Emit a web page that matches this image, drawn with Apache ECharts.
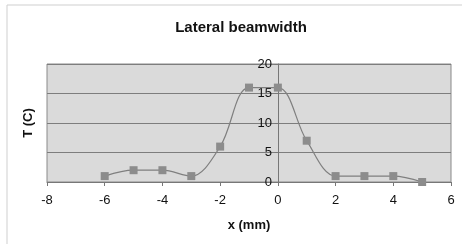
<!DOCTYPE html>
<html><head><meta charset="utf-8">
<script src="https://cdn.jsdelivr.net/npm/echarts@6/dist/echarts.min.js"></script>
<style>html,body{margin:0;padding:0;background:#fff}#c{width:462px;height:244px}</style>
</head><body><div id="c"></div>
<script>
const xValues = [-6, -5, -4, -3, -2, -1, 0, 1, 2, 3, 4, 5];
const tValues = [1, 2, 2, 1, 6, 16, 16, 7, 1, 1, 1, 0];
const titleText = 'Lateral beamwidth';
const xName = 'x (mm)';
const yName = 'T (C)';

const W = 462, GL = 47, GR = 11;
const xMin = -8, xMax = 6;
const zeroOffset = -((0 - xMin) / (xMax - xMin)) * (W - GL - GR);
const font = 'Liberation Sans, Arial';

const chart = echarts.init(document.getElementById('c'), null, {renderer: 'canvas'});
chart.setOption({
  animation: false,
  backgroundColor: '#ffffff',
  title: {text: titleText, left: 236, top: 15, textAlign: 'center',
    textStyle: {fontFamily: font, fontWeight: 'bold', fontSize: 15, color: '#111'}},
  graphic: [{type: 'rect', shape: {x: 7, y: 5, width: 470, height: 250}, style: {fill: 'none', stroke: '#cfcfcf', lineWidth: 1}}],
  grid: {left: GL, right: GR, top: 64, bottom: 62, show: true, backgroundColor: '#dadada', borderColor: '#8a8a8a', borderWidth: 1},
  xAxis: {type: 'value', min: xMin, max: xMax, interval: 2,
    name: xName, nameLocation: 'middle', nameGap: 37,
    nameTextStyle: {fontFamily: font, fontWeight: 'bold', fontSize: 13, color: '#111'},
    axisLine: {show: true, onZero: false, lineStyle: {color: '#777'}},
    axisTick: {show: true, inside: false, length: 4, lineStyle: {color: '#777'}},
    axisLabel: {fontFamily: font, fontSize: 13, color: '#111', margin: 12},
    splitLine: {show: false}},
  yAxis: [
    {type: 'value', min: 0, max: 20, interval: 5,
      name: yName, nameLocation: 'middle', nameGap: 12,
      nameTextStyle: {fontFamily: font, fontWeight: 'bold', fontSize: 13, color: '#111'},
      axisLine: {show: false}, axisTick: {show: false}, axisLabel: {show: false},
      splitLine: {show: true, lineStyle: {color: '#7d7d7d', width: 1}}},
    {type: 'value', min: 0, max: 20, interval: 5, position: 'left', offset: zeroOffset,
      axisLine: {show: true, onZero: false, lineStyle: {color: '#777'}},
      axisTick: {show: true, length: 3, lineStyle: {color: '#777'}},
      axisLabel: {fontFamily: font, fontSize: 13, color: '#111', margin: 6},
      splitLine: {show: false}}
  ],
  series: [{type: 'line', data: xValues.map((x, i) => [x, tValues[i]]),
    smooth: 0.35, symbol: 'rect', symbolSize: 8,
    itemStyle: {color: '#8c8c8c'}, lineStyle: {color: '#7f7f7f', width: 1.2}}]
});
</script></body></html>
